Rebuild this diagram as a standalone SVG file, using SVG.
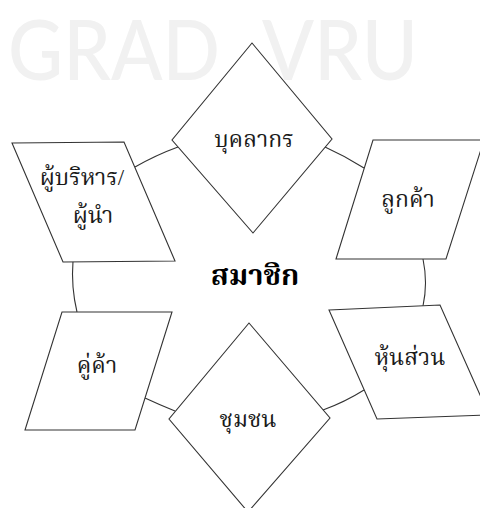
<svg xmlns="http://www.w3.org/2000/svg" width="480" height="508" viewBox="0 0 480 508">
<style>
.wm{font-family:"Lato","Open Sans",sans-serif;font-size:84px;fill:#f1f1f1;font-weight:500}
.shape{fill:#ffffff;stroke:#333333;stroke-width:1.1}
.conn{fill:none;stroke:#333333;stroke-width:1.1}
.lbl{font-family:"Liberation Serif","Noto Serif Thai","Norasi",serif;font-size:23px;fill:#1a1a1a;text-anchor:middle}
.big{font-family:"Liberation Serif","Noto Serif Thai","Norasi",serif;font-size:29px;font-weight:bold;fill:#000000;text-anchor:middle}
</style>
<rect x="0" y="0" width="480" height="508" fill="#ffffff"/>
<g id="watermark">
<text class="wm" x="8" y="80" textLength="212" lengthAdjust="spacingAndGlyphs">GRAD</text>
<text class="wm" x="262" y="80" textLength="156" lengthAdjust="spacingAndGlyphs">VRU</text>
</g>
<g id="connectors">
<path class="conn" d="M178,147 Q156,155 135,167"/>
<path class="conn" d="M325,147 Q345,156 364,168"/>
<path class="conn" d="M423,259 Q428,283 423,306"/>
<path class="conn" d="M364,390 Q345,402 323,410"/>
<path class="conn" d="M175,411 Q160,405 145,398"/>
<path class="conn" d="M77,312 Q71,287 73,261"/>
</g>
<g id="node-staff">
<polygon class="shape" points="252,43 332,139 253,233 172,140"/>
<text class="lbl" x="254" y="147">บุคลากร</text>
</g>
<g id="node-community">
<polygon class="shape" points="249,323 330,418 248,512 169,419"/>
<text class="lbl" x="248" y="427">ชุมชน</text>
</g>
<g id="node-executive">
<polygon class="shape" points="12,143 124,142 175,261 63,262"/>
<text class="lbl" x="82" y="185">ผู้บริหาร/</text>
<text class="lbl" x="93" y="223">ผู้นำ</text>
</g>
<g id="node-customer">
<polygon class="shape" points="373,140 484,140 446,259 336,259"/>
<text class="lbl" x="408" y="207">ลูกค้า</text>
</g>
<g id="node-partner">
<polygon class="shape" points="62,312 172,312 135,430 25,430"/>
<text class="lbl" x="97" y="373">คู่ค้า</text>
</g>
<g id="node-shareholder">
<polygon class="shape" points="329,310 440,305 489,415 377,419"/>
<text class="lbl" x="410" y="365">หุ้นส่วน</text>
</g>
<g id="center">
<text class="big" x="255" y="285">สมาชิก</text>
</g>
</svg>
